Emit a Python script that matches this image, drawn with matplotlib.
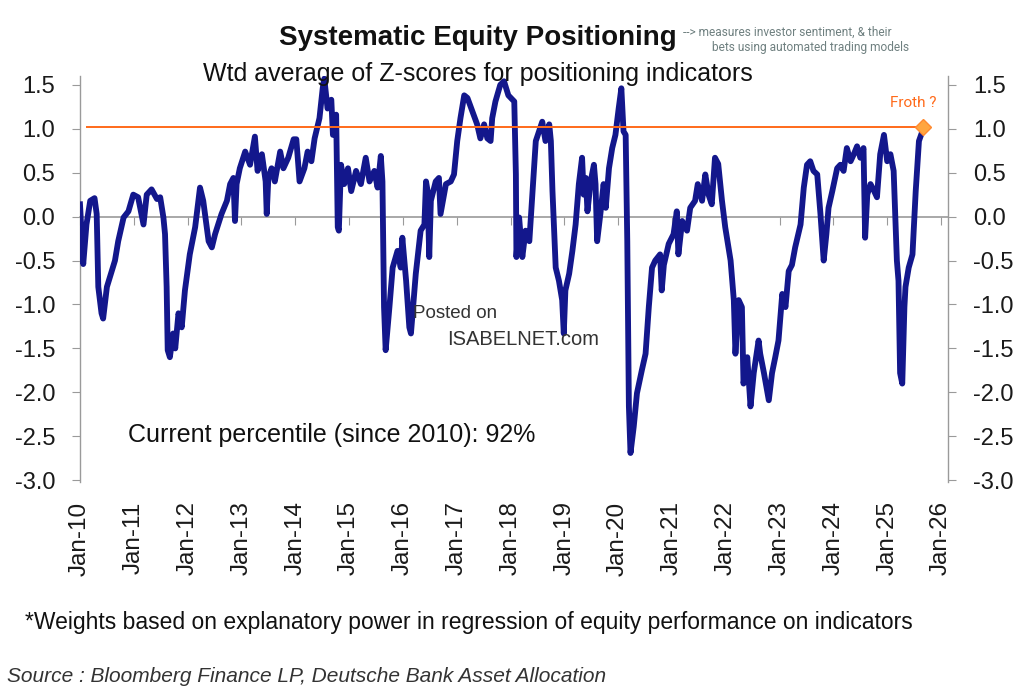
import matplotlib
matplotlib.use("Agg")
import matplotlib.pyplot as plt
from matplotlib import font_manager
from matplotlib.ticker import FixedLocator, FormatStrFormatter

plt.rcParams['axes.unicode_minus'] = False

# weekly-ish reading of the z-score line (decimal year, value)
years = [
    2010.00, 2010.06, 2010.12, 2010.19, 2010.27, 2010.31, 2010.34, 2010.40, 2010.43, 2010.50,
    2010.59, 2010.65, 2010.71, 2010.81, 2010.90, 2010.99, 2011.08, 2011.18, 2011.24, 2011.33,
    2011.43, 2011.49, 2011.55, 2011.58, 2011.61, 2011.63, 2011.67, 2011.73, 2011.77, 2011.83,
    2011.89, 2011.95, 2012.04, 2012.14, 2012.23, 2012.29, 2012.39, 2012.45, 2012.51, 2012.63,
    2012.73, 2012.79, 2012.85, 2012.88, 2012.91, 2012.97, 2013.07, 2013.16, 2013.25, 2013.30,
    2013.38, 2013.45, 2013.47, 2013.50, 2013.56, 2013.62, 2013.72, 2013.78, 2013.87, 2013.97,
    2014.02, 2014.08, 2014.17, 2014.23, 2014.30, 2014.36, 2014.45, 2014.51, 2014.54, 2014.60,
    2014.67, 2014.70, 2014.76, 2014.79, 2014.81, 2014.85, 2014.91, 2014.98, 2015.04, 2015.13,
    2015.22, 2015.31, 2015.38, 2015.47, 2015.53, 2015.59, 2015.62, 2015.65, 2015.68, 2015.75,
    2015.81, 2015.90, 2015.96, 2015.99, 2016.06, 2016.12, 2016.15, 2016.24, 2016.33, 2016.40,
    2016.43, 2016.46, 2016.49, 2016.52, 2016.61, 2016.67, 2016.70, 2016.80, 2016.89, 2016.95,
    2017.01, 2017.07, 2017.14, 2017.20, 2017.29, 2017.38, 2017.44, 2017.51, 2017.57, 2017.63,
    2017.66, 2017.72, 2017.81, 2017.88, 2017.96, 2018.07, 2018.10, 2018.11, 2018.16, 2018.22,
    2018.28, 2018.35, 2018.41, 2018.47, 2018.53, 2018.59, 2018.65, 2018.72, 2018.75, 2018.78,
    2018.84, 2018.90, 2018.96, 2018.99, 2019.02, 2019.09, 2019.15, 2019.21, 2019.27, 2019.33,
    2019.36, 2019.40, 2019.43, 2019.49, 2019.55, 2019.58, 2019.61, 2019.67, 2019.73, 2019.77,
    2019.83, 2019.89, 2019.95, 2020.01, 2020.06, 2020.10, 2020.14, 2020.17, 2020.20, 2020.23,
    2020.29, 2020.35, 2020.44, 2020.51, 2020.57, 2020.63, 2020.69, 2020.78, 2020.81, 2020.85,
    2020.94, 2021.03, 2021.09, 2021.12, 2021.19, 2021.28, 2021.34, 2021.43, 2021.48, 2021.56,
    2021.62, 2021.68, 2021.74, 2021.80, 2021.86, 2021.93, 2021.99, 2022.05, 2022.09, 2022.15,
    2022.18, 2022.24, 2022.30, 2022.33, 2022.40, 2022.46, 2022.52, 2022.61, 2022.64, 2022.71,
    2022.80, 2022.86, 2022.92, 2022.98, 2023.05, 2023.11, 2023.17, 2023.23, 2023.29, 2023.39,
    2023.45, 2023.51, 2023.57, 2023.63, 2023.70, 2023.76, 2023.82, 2023.87, 2023.91, 2023.98,
    2024.07, 2024.13, 2024.19, 2024.25, 2024.32, 2024.38, 2024.44, 2024.50, 2024.56, 2024.59,
    2024.63, 2024.69, 2024.75, 2024.81, 2024.87, 2024.94, 2025.00, 2025.06, 2025.12, 2025.18,
    2025.21, 2025.24, 2025.28, 2025.32, 2025.34, 2025.40, 2025.47, 2025.53, 2025.59, 2025.67,
]
zscore = [
    0.14, -0.54, -0.09, 0.18, 0.21, 0.03, -0.80, -1.10, -1.16, -0.80,
    -0.62, -0.50, -0.28, -0.01, 0.06, 0.25, 0.22, -0.09, 0.25, 0.31,
    0.20, 0.22, -0.01, -0.20, -0.80, -1.52, -1.60, -1.33, -1.50, -1.10,
    -1.26, -0.84, -0.43, -0.12, 0.33, 0.18, -0.28, -0.35, -0.20, 0.03,
    0.18, 0.37, 0.44, -0.05, 0.37, 0.55, 0.74, 0.59, 0.91, 0.52,
    0.71, 0.40, 0.03, 0.44, 0.55, 0.40, 0.74, 0.55, 0.67, 0.88,
    0.88, 0.40, 0.55, 0.74, 0.63, 0.89, 1.12, 1.46, 1.57, 1.23,
    1.33, 0.93, 1.16, -0.12, -0.16, 0.59, 0.37, 0.55, 0.29, 0.52,
    0.37, 0.67, 0.40, 0.52, 0.33, 0.69, 0.40, -1.03, -1.52, -1.03,
    -0.58, -0.39, -0.58, -0.24, -0.73, -1.26, -1.33, -0.65, -0.16, -0.09,
    0.40, 0.29, -0.46, 0.18, 0.40, 0.44, 0.03, 0.37, 0.40, 0.48,
    0.86, 1.12, 1.38, 1.35, 1.20, 1.05, 0.89, 1.05, 0.89, 0.86,
    1.12, 1.31, 1.50, 1.54, 1.38, 1.31, 0.48, -0.46, -0.01, -0.46,
    -0.16, -0.28, 0.29, 0.86, 0.97, 1.08, 0.86, 1.05, 0.86, 0.29,
    -0.58, -0.73, -0.95, -1.33, -0.84, -0.65, -0.39, -0.09, 0.37, 0.67,
    0.25, 0.44, 0.06, 0.40, 0.59, 0.37, -0.28, 0.03, 0.37, 0.10,
    0.55, 0.78, 0.93, 1.23, 1.46, 0.97, 0.93, -0.28, -2.16, -2.69,
    -2.39, -2.01, -1.75, -1.56, -1.03, -0.58, -0.50, -0.43, -0.84, -0.55,
    -0.31, -0.20, 0.06, -0.43, -0.05, -0.16, 0.10, 0.18, 0.37, 0.18,
    0.48, 0.25, 0.14, 0.67, 0.60, 0.18, -0.12, -0.35, -0.50, -0.95,
    -1.56, -0.95, -1.03, -1.90, -1.60, -2.16, -1.78, -1.41, -1.56, -1.78,
    -2.09, -1.78, -1.60, -1.41, -0.88, -1.03, -0.62, -0.55, -0.35, -0.09,
    0.33, 0.59, 0.63, 0.52, 0.48, 0.03, -0.50, -0.20, 0.10, 0.29,
    0.55, 0.59, 0.52, 0.78, 0.63, 0.71, 0.80, 0.67, 0.78, -0.24,
    0.25, 0.37, 0.30, 0.22, 0.71, 0.93, 0.63, 0.71, 0.52, -0.50,
    -0.73, -1.78, -1.90, -1.03, -0.80, -0.58, -0.43, 0.29, 0.86, 1.00,
]

year_ticks = list(range(2010, 2027))
year_labels = ["Jan-%02d" % (y % 100) for y in year_ticks]
z_ticks = [-3.0, -2.5, -2.0, -1.5, -1.0, -0.5, 0.0, 0.5, 1.0, 1.5]
froth_level = 1.02
froth_start = 2010.12

navy = "#13178c"
orange = "#ff6a1a"
grey = "#9a9a9a"

# pick a narrow face if the box has one
installed = {f.name for f in font_manager.fontManager.ttflist}
if "Liberation Sans Narrow" in installed:
    narrow = ["Liberation Sans Narrow", "DejaVu Sans"]
    nscale = 1.12
else:
    narrow = ["Liberation Sans", "DejaVu Sans"]
    nscale = 1.0
arial = ["Liberation Sans", "DejaVu Sans"]
roboto = ["Roboto", "DejaVu Sans"]

fig = plt.figure(figsize=(10.24, 6.95), dpi=100)
ax = fig.add_axes([80 / 1024, 1 - 482 / 695, 868 / 1024, 406 / 695])

ax.plot(years, zscore, color=navy, lw=4.2, solid_joinstyle="round", zorder=3)
ax.hlines(froth_level, froth_start, years[-1], color=orange, lw=1.4, zorder=4)
ax.plot(years[-1], froth_level, marker="D", ms=8, color="#ffa640",
        mec="#ff8a30", mew=1, zorder=5)

ax.set_xlim(2010, 2026.13)
ax.set_ylim(-3.02, 1.6)

for s in ["top", "bottom"]:
    ax.spines[s].set_visible(False)
for s in ["left", "right"]:
    ax.spines[s].set_color(grey)
    ax.spines[s].set_linewidth(1.0)

ax.yaxis.set_major_locator(FixedLocator(z_ticks))
ax.yaxis.set_major_formatter(FormatStrFormatter("%.1f"))
ax.tick_params(axis="y", which="both", left=True, right=True, labelleft=True,
               labelright=True, direction="out", length=6, color=grey,
               labelsize=17, labelcolor="#1a1a1a", pad=12)
for t in ax.yaxis.get_major_ticks():
    t.label1.set_family(arial)
    t.label2.set_family(arial)

ax.set_xticks(year_ticks)
ax.set_xticklabels(year_labels, rotation=90, fontsize=17.5, color="#1a1a1a",
                   family=arial)
ax.tick_params(axis="x", length=0, pad=14)

# zero line with the year tick marks hanging below it
zero_pos = (0 - ax.get_ylim()[0]) / (ax.get_ylim()[1] - ax.get_ylim()[0])
zx = ax.secondary_xaxis(zero_pos)
zx.set_xticks(year_ticks)
zx.set_xticklabels([])
zx.tick_params(axis="x", which="both", top=True, bottom=False, direction="in",
               length=6, color=grey)
for s in zx.spines.values():
    s.set_color(grey)
    s.set_linewidth(1.2)

# titles and notes
fig.text(0.467, 0.945, "Systematic Equity Positioning", ha="center", va="center",
         fontsize=20 * nscale, fontweight="bold", family=narrow, color="#111111")
fig.text(0.467, 0.894, "Wtd average of Z-scores for positioning indicators",
         ha="center", va="center", fontsize=18 * nscale, family=narrow, color="#111111")
fig.text(0.667, 0.954, "--> measures investor sentiment, & their", ha="left",
         va="center", fontsize=8.6, family=roboto, color="#6f8080")
fig.text(0.695, 0.931, "bets using automated trading models", ha="left",
         va="center", fontsize=8.6, family=roboto, color="#6f8080")
fig.text(0.869, 0.852, "Froth ?", ha="left", va="center", fontsize=11,
         family=roboto, color=orange)

fig.text(0.403, 0.549, "Posted on", ha="left", va="center", fontsize=13.5,
         family=arial, color="#333333")
fig.text(0.437, 0.512, "ISABELNET.com", ha="left", va="center", fontsize=14.5,
         family=arial, color="#333333")
fig.text(0.125, 0.374, "Current percentile (since 2010): 92%", ha="left",
         va="center", fontsize=18, family=arial, color="#111111")

fig.text(0.024, 0.104, "*Weights based on explanatory power in regression of equity performance on indicators",
         ha="left", va="center", fontsize=16.5 * nscale, family=narrow, color="#111111")
fig.text(0.007, 0.027, "Source : Bloomberg Finance LP, Deutsche Bank Asset Allocation",
         ha="left", va="center", fontsize=15.0 * nscale, style="italic", family=narrow,
         color="#333333")

fig.savefig("out.png", dpi=100, facecolor="white")
